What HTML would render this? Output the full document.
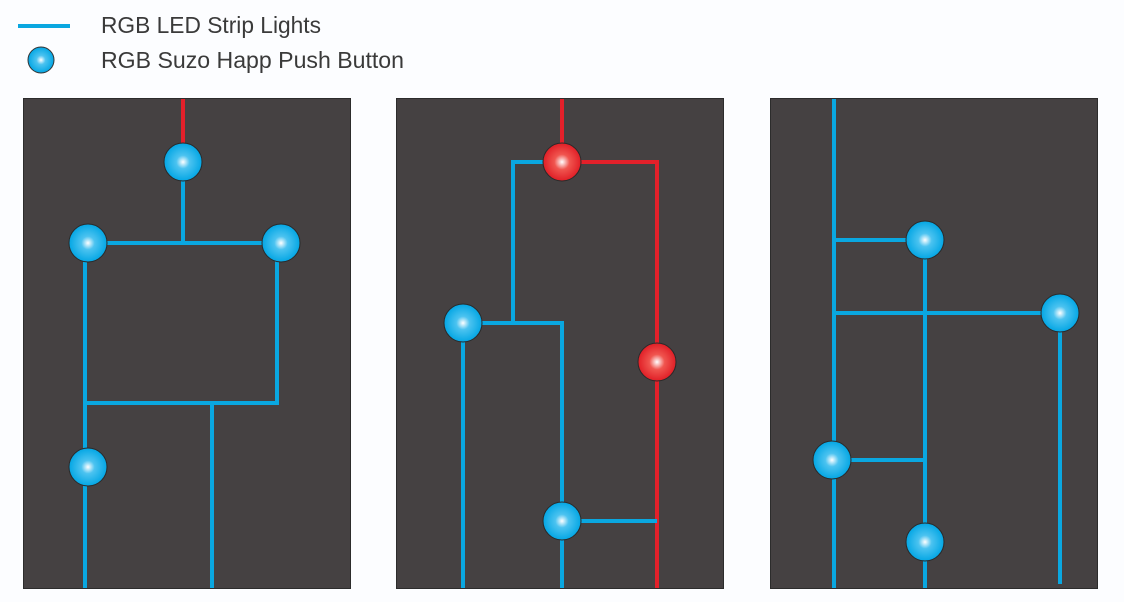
<!DOCTYPE html>
<html><head><style>body{margin:0;background:#fcfdff}svg{display:block}</style></head>
<body>
<svg width="1124" height="602" xmlns="http://www.w3.org/2000/svg">
<defs>
<radialGradient id="b" cx="0.5" cy="0.5" r="0.5"><stop offset="0" stop-color="#ffffff"/><stop offset="0.35" stop-color="#4cc3f0"/><stop offset="1" stop-color="#03a6e4"/></radialGradient>
<radialGradient id="r" cx="0.5" cy="0.5" r="0.5"><stop offset="0" stop-color="#ffffff"/><stop offset="0.4" stop-color="#f0554f"/><stop offset="1" stop-color="#e01e26"/></radialGradient>
</defs>
<rect width="1124" height="602" fill="#fcfdff"/>
<line x1="18" y1="26" x2="70" y2="26" stroke="#0aa7e0" stroke-width="4"/>
<circle cx="41" cy="60" r="13" fill="url(#b)" stroke="#333" stroke-width="1"/>
<g font-family="Liberation Sans, sans-serif" font-size="23" fill="#3a3a3a">
<text x="101" y="33" textLength="220" lengthAdjust="spacingAndGlyphs">RGB LED Strip Lights</text>
<text x="101" y="68" textLength="303" lengthAdjust="spacingAndGlyphs">RGB Suzo Happ Push Button</text>
</g>
<g fill="#454142" stroke="#2c2c2c" stroke-width="1">
<rect x="23.5" y="98.5" width="327" height="490"/>
<rect x="396.5" y="98.5" width="327" height="490"/>
<rect x="770.5" y="98.5" width="327" height="490"/>
</g>
<g fill="none" stroke-width="4" stroke-linecap="butt">
<line x1="183" y1="99" x2="183" y2="150" stroke="#e3202a"/>
<g stroke="#0aa7e0">
<line x1="183" y1="162" x2="183" y2="243"/>
<line x1="88" y1="243" x2="281" y2="243"/>
<polyline points="85,243 85,588"/>
<polyline points="277,243 277,403 85,403"/>
<line x1="212" y1="403" x2="212" y2="588"/>
</g>
<g stroke="#e3202a">
<line x1="562" y1="99" x2="562" y2="162"/>
<polyline points="562,162 657,162 657,588"/>
</g>
<g stroke="#0aa7e0">
<polyline points="562,162 513,162 513,323"/>
<polyline points="463,323 562,323 562,588"/>
<line x1="463" y1="323" x2="463" y2="588"/>
<line x1="562" y1="521" x2="657" y2="521"/>
</g>
<g stroke="#0aa7e0">
<line x1="834" y1="99" x2="834" y2="588"/>
<line x1="834" y1="240" x2="925" y2="240"/>
<line x1="925" y1="240" x2="925" y2="588"/>
<line x1="834" y1="313" x2="1060" y2="313"/>
<line x1="1060" y1="313" x2="1060" y2="584"/>
<line x1="832" y1="460" x2="925" y2="460"/>
</g>
</g>
<g stroke="#2a2a2a" stroke-width="1">
<circle cx="183" cy="162" r="19" fill="url(#b)"/>
<circle cx="88" cy="243" r="19" fill="url(#b)"/>
<circle cx="281" cy="243" r="19" fill="url(#b)"/>
<circle cx="88" cy="467" r="19" fill="url(#b)"/>
<circle cx="562" cy="162" r="19" fill="url(#r)"/>
<circle cx="657" cy="362" r="19" fill="url(#r)"/>
<circle cx="463" cy="323" r="19" fill="url(#b)"/>
<circle cx="562" cy="521" r="19" fill="url(#b)"/>
<circle cx="925" cy="240" r="19" fill="url(#b)"/>
<circle cx="1060" cy="313" r="19" fill="url(#b)"/>
<circle cx="832" cy="460" r="19" fill="url(#b)"/>
<circle cx="925" cy="542" r="19" fill="url(#b)"/>
</g>
</svg>
</body></html>
